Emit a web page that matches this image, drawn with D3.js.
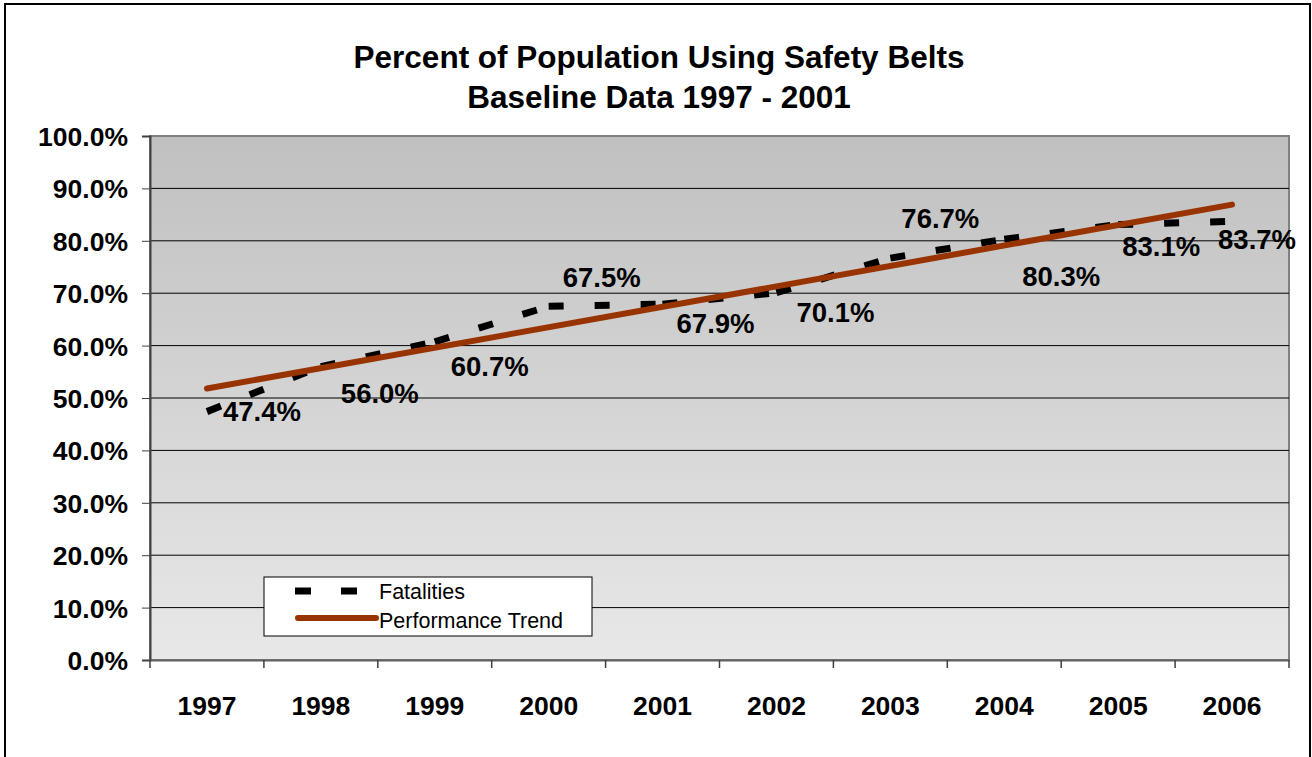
<!DOCTYPE html>
<html>
<head>
<meta charset="utf-8">
<script src="https://cdn.jsdelivr.net/npm/d3@7/dist/d3.min.js"></script>
<style>
	body { margin: 0; background: #fff; }
	svg { display: block; font-family: 'Liberation Sans', Arial, sans-serif; }
</style>
</head>
<body>
<div id="chart"></div>
<script>
// values
var years = ['1997', '1998', '1999', '2000', '2001', '2002', '2003', '2004', '2005', '2006'];
var fatalities = [47.4, 56.0, 60.7, 67.5, 67.9, 70.1, 76.7, 80.3, 83.1, 83.7];
var trendYears = ['1997', '2006'];
var trendValues = [51.8, 86.9];
var yTicks = [0, 10, 20, 30, 40, 50, 60, 70, 80, 90, 100];
var titleLines = ['Percent of Population Using Safety Belts', 'Baseline Data 1997 - 2001'];
var seriesNames = ['Fatalities', 'Performance Trend'];

// where each data label sits relative to its point (px)
var labelDx = [55, 59, 55, 53, 53, 59, 50, 57, 43, 25];
var labelDy = [9, 36, 34, -19, 29, 29, -30, 47, 31, 28];

var buildChart = function() {

	var margin = {top: 136, right: 23, bottom: 97, left: 150},
		width = 1312 - margin.left - margin.right,
		height = 757 - margin.top - margin.bottom;

	var svg = d3.select('#chart')
		.append('svg')
		.attr('width', 1312)
		.attr('height', 757);

	// outer chart frame
	svg.append('rect')
		.attr('x', 5)
		.attr('y', 4)
		.attr('width', 1305)
		.attr('height', 800)
		.attr('fill', 'none')
		.attr('stroke', '#000')
		.attr('stroke-width', 2);

	var grad = svg.append('defs')
		.append('linearGradient')
		.attr('id', 'plotbg')
		.attr('x1', 0).attr('y1', 0)
		.attr('x2', 0).attr('y2', 1);
	grad.append('stop').attr('offset', '0%').attr('stop-color', '#c0c0c0');
	grad.append('stop').attr('offset', '100%').attr('stop-color', '#e8e8e8');

	svg.selectAll('.title')
		.data(titleLines)
		.enter()
		.append('text')
		.attr('class', 'title')
		.attr('x', 659)
		.attr('y', function(d, i) {return 68 + i * 40})
		.attr('text-anchor', 'middle')
		.style('font-size', '31.5px')
		.style('font-weight', 'bold')
		.text(function(d) {return d});

	var g = svg.append('g')
		.attr('transform', 'translate(' + margin.left + ',' + margin.top + ')');

	var x = d3.scaleBand()
		.domain(years)
		.range([0, width]);

	var y = d3.scaleLinear()
		.domain([0, 100])
		.range([height, 0]);

	var cx = function(yr) {return x(yr) + x.bandwidth() / 2};

	g.append('rect')
		.attr('width', width)
		.attr('height', height)
		.attr('fill', 'url(#plotbg)')
		.attr('stroke', '#808080')
		.attr('stroke-width', 2);

	// gridlines
	g.selectAll('.grid')
		.data(yTicks.filter(function(d) {return d > 0 && d < 100}))
		.enter()
		.append('line')
		.attr('class', 'grid')
		.attr('x1', 0)
		.attr('x2', width)
		.attr('y1', function(d) {return y(d)})
		.attr('y2', function(d) {return y(d)})
		.attr('stroke', '#000')
		.attr('stroke-width', 1);

	var yAxis = d3.axisLeft(y)
		.tickValues(yTicks)
		.tickSize(8)
		.tickPadding(14)
		.tickFormat(function(d) {return d.toFixed(1) + '%'});

	var ya = g.append('g')
		.attr('class', 'y-axis')
		.call(yAxis);
	ya.select('.domain').attr('stroke', '#404040').attr('stroke-width', 2);
	ya.selectAll('line').attr('stroke', '#404040');
	ya.selectAll('text')
		.attr('dy', '0.36em')
		.style('font-size', '26.5px')
		.style('font-weight', 'bold')
		.attr('fill', '#000');

	var xAxis = d3.axisBottom(x)
		.tickSize(0)
		.tickPadding(36);

	var xa = g.append('g')
		.attr('class', 'x-axis')
		.attr('transform', 'translate(0,' + height + ')')
		.call(xAxis);
	xa.select('.domain').attr('stroke', '#606060').attr('stroke-width', 2);
	xa.selectAll('text')
		.style('font-size', '26.5px')
		.style('font-weight', 'bold')
		.attr('fill', '#000');

	// category boundary ticks
	g.selectAll('.xtick')
		.data(years.concat(['end']))
		.enter()
		.append('line')
		.attr('class', 'xtick')
		.attr('x1', function(d) {return d === 'end' ? width : x(d)})
		.attr('x2', function(d) {return d === 'end' ? width : x(d)})
		.attr('y1', height)
		.attr('y2', height + 8)
		.attr('stroke', '#404040')
		.attr('stroke-width', 1.5);

	// dashed data series, one piece per segment like the original
	var pts = years.map(function(yr, i) {return [cx(yr), y(fatalities[i])]});
	g.selectAll('.seg')
		.data(d3.pairs(pts))
		.enter()
		.append('line')
		.attr('class', 'seg')
		.attr('x1', function(d) {return d[0][0]})
		.attr('y1', function(d) {return d[0][1]})
		.attr('x2', function(d) {return d[1][0]})
		.attr('y2', function(d) {return d[1][1]})
		.attr('stroke', '#000')
		.attr('stroke-width', 7)
		.attr('stroke-dasharray', '15,31');

	var trendLine = d3.line()
		.x(function(d, i) {return cx(trendYears[i])})
		.y(function(d) {return y(d)});

	g.append('path')
		.datum(trendValues)
		.attr('d', trendLine)
		.attr('fill', 'none')
		.attr('stroke', '#993300')
		.attr('stroke-width', 6)
		.attr('stroke-linecap', 'round');

	g.selectAll('.dlabel')
		.data(fatalities)
		.enter()
		.append('text')
		.attr('class', 'dlabel')
		.attr('x', function(d, i) {return cx(years[i]) + labelDx[i]})
		.attr('y', function(d, i) {return y(d) + labelDy[i]})
		.attr('text-anchor', 'middle')
		.style('font-size', '27.5px')
		.style('font-weight', 'bold')
		.text(function(d) {return d.toFixed(1) + '%'});

	// legend
	var lg = svg.append('g')
		.attr('transform', 'translate(264,577)');

	lg.append('rect')
		.attr('width', 328)
		.attr('height', 59)
		.attr('fill', '#fff')
		.attr('stroke', '#000')
		.attr('stroke-width', 1);

	lg.append('line')
		.attr('x1', 31).attr('x2', 95)
		.attr('y1', 14).attr('y2', 14)
		.attr('stroke', '#000')
		.attr('stroke-width', 7)
		.attr('stroke-dasharray', '16,30');

	lg.append('line')
		.attr('x1', 34).attr('x2', 112)
		.attr('y1', 41).attr('y2', 41)
		.attr('stroke', '#993300')
		.attr('stroke-width', 6)
		.attr('stroke-linecap', 'round');

	lg.selectAll('.ltext')
		.data(seriesNames)
		.enter()
		.append('text')
		.attr('class', 'ltext')
		.attr('x', 115)
		.attr('y', function(d, i) {return 22 + i * 29})
		.style('font-size', '21.5px')
		.text(function(d) {return d});
};

buildChart();
</script>
</body>
</html>
